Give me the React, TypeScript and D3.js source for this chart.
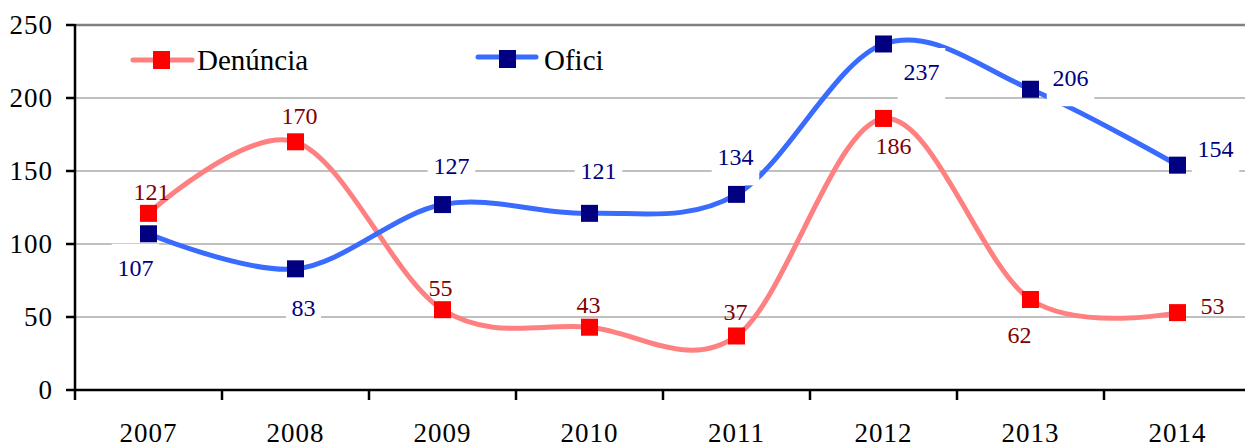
import React from "react";
import * as d3 from "d3";

const years = ["2007", "2008", "2009", "2010", "2011", "2012", "2013", "2014"];
const denuncia = [121, 170, 55, 43, 37, 186, 62, 53];
const ofici = [107, 83, 127, 121, 134, 237, 206, 154];
const yTicks = [0, 50, 100, 150, 200, 250];

// label offsets (relative to marker centre)
const denunciaLabelOffsets = [[3, -21], [4, -26], [-2, -22], [-1, -22], [-1, -24], [10, 28], [-11, 36], [35, -7]];
const oficiLabelOffsets = [[-13, 34], [8, 39], [9, -39], [9, -42], [-1, -37], [38, 28], [40, -11], [38, -16]];

const W = 1245;
const H = 446;
const FONT = '"Liberation Serif"';

export default function App() {
  const x = d3.scaleBand<string>().domain(years).range([75, 1251]);
  const y = d3.scaleLinear().domain([0, 250]).range([390, 25]);
  const cx = (i: number) => (x(years[i]) as number) + x.bandwidth() / 2;

  const line = d3
    .line<number>()
    .x((_, i) => cx(i))
    .y((d) => y(d))
    .curve(d3.curveCardinal.tension(0));

  const series = [
    { name: "Denúncia", values: denuncia, lineColor: "#FF8080", markerColor: "#FF0000", labelColor: "#800000", offsets: denunciaLabelOffsets, box: false },
    { name: "Ofici", values: ofici, lineColor: "#3A6BFF", markerColor: "#000080", labelColor: "#000080", offsets: oficiLabelOffsets, box: true },
  ];

  const ms = 17;

  return (
    <svg width={W} height={H} style={{ position: "absolute", left: 0, top: 0, background: "#fff" }}>
      <rect x={0} y={0} width={W} height={H} fill="#fff" />
      {/* gridlines */}
      {yTicks.filter((t) => t > 0 && t < 250).map((t) => (
        <line key={t} x1={75} x2={1251} y1={y(t)} y2={y(t)} stroke="#C0C0C0" strokeWidth={2} />
      ))}
      <line x1={75} x2={1251} y1={y(250)} y2={y(250)} stroke="#808080" strokeWidth={2.5} />
      {/* y axis */}
      <line x1={75} x2={75} y1={y(250) - 1} y2={391} stroke="#000" strokeWidth={2.5} />
      {yTicks.map((t) => (
        <g key={t}>
          <line x1={66} x2={75} y1={y(t)} y2={y(t)} stroke="#000" strokeWidth={2.5} />
          <text x={53} y={y(t) + 9} textAnchor="end" fontSize={27} letterSpacing={1} fill="#000" style={{ fontFamily: FONT }}>
            {t}
          </text>
        </g>
      ))}
      {/* x axis */}
      <line x1={74} x2={1251} y1={390} y2={390} stroke="#000" strokeWidth={2.5} />
      {years.map((yr, i) => (
        <g key={yr}>
          <line x1={x(yr) as number} x2={x(yr) as number} y1={390} y2={400} stroke="#000" strokeWidth={2.5} />
          <text x={cx(i)} y={442} textAnchor="middle" fontSize={27} letterSpacing={1} fill="#000" style={{ fontFamily: FONT }}>
            {yr}
          </text>
        </g>
      ))}
      {/* lines */}
      {series.map((s) => (
        <path key={s.name} d={line(s.values) as string} fill="none" stroke={s.lineColor} strokeWidth={5} strokeLinejoin="round" />
      ))}
      {/* markers */}
      {series.map((s) =>
        s.values.map((v, i) => (
          <rect key={s.name + i} x={cx(i) - ms / 2} y={y(v) - ms / 2} width={ms} height={ms} fill={s.markerColor} />
        ))
      )}
      {/* labels */}
      {series.map((s) =>
        s.values.map((v, i) => {
          const lx = cx(i) + s.offsets[i][0];
          const ly = y(v) + s.offsets[i][1];
          const txt = String(v);
          const bw = txt.length * 12.5 + 10;
          return (
            <g key={"l" + s.name + i}>
              {s.box && <rect x={lx - bw / 2} y={ly - 24} width={bw} height={52} fill="#fff" />}
              <text x={lx} y={ly + 8} textAnchor="middle" fontSize={24} fill={s.labelColor} style={{ fontFamily: FONT }}>
                {txt}
              </text>
            </g>
          );
        })
      )}
      {/* legend */}
      <line x1={133} x2={192} y1={60} y2={60} stroke="#FF8080" strokeWidth={5} strokeLinecap="round" />
      <rect x={153} y={51} width={ms} height={ms + 1} fill="#FF0000" />
      <text x={197} y={70} fontSize={29} fill="#000" style={{ fontFamily: FONT }}>Denúncia</text>
      <line x1={478} x2={536} y1={57} y2={57} stroke="#3A6BFF" strokeWidth={5} strokeLinecap="round" />
      <rect x={499} y={50} width={ms} height={ms + 1} fill="#000080" />
      <text x={544} y={70} fontSize={29} fill="#000" style={{ fontFamily: FONT }}>Ofici</text>
    </svg>
  );
}
